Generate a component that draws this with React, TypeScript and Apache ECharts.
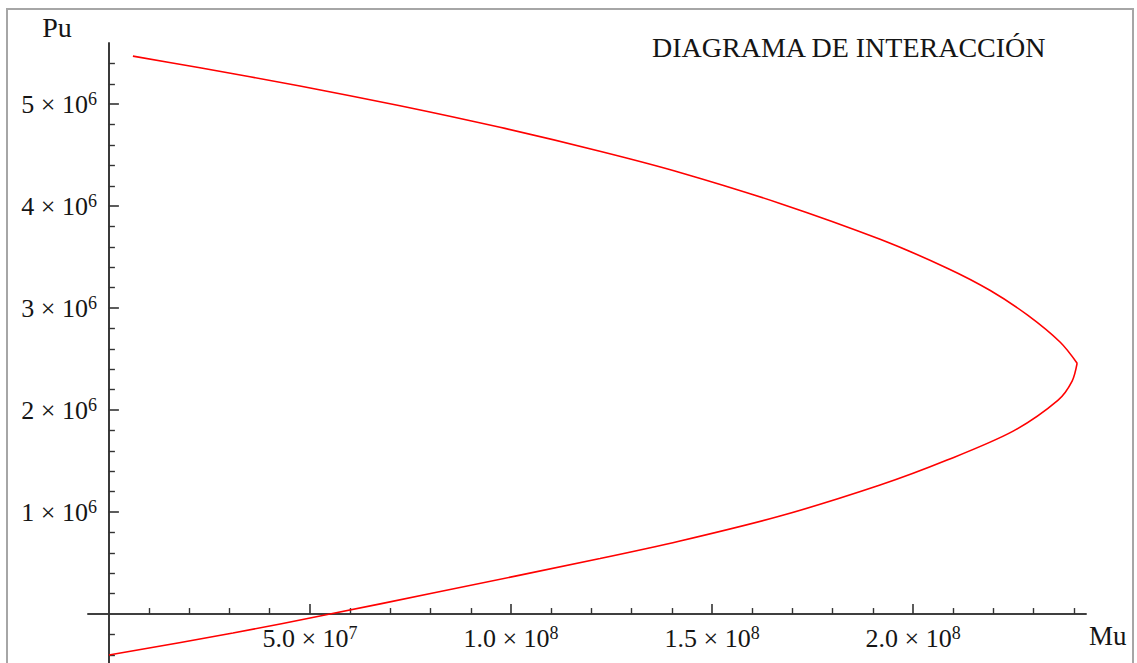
import { useEffect, useRef } from "react";
import * as echarts from "echarts";

// Upper branch (compression controlled), from the top end to the tip
const upperMu = [
  5.97e6, 2.264e7, 4.751e7, 7.239e7, 9.726e7, 1.221e8, 1.42e8, 1.669e8, 1.918e8, 2.085e8,
  2.192e8, 2.284e8, 2.366e8, 2.408e8,
];
const upperPu = [
  5.471e6, 5.357e6, 5.178e6, 4.985e6, 4.773e6, 4.539e6, 4.331e6, 4.027e6, 3.675e6, 3.392e6,
  3.173e6, 2.933e6, 2.665e6, 2.46e6,
];
// Lower branch (tension controlled), from the tip to the bottom end
const lowerMu = [
  2.408e8, 2.3955e8, 2.3607e8, 2.2488e8, 2.0846e8, 1.9179e8, 1.6692e8, 1.4204e8,
  1.2214e8, 8.06e7, 5.498e7, 3.085e7, 0,
];
const lowerPu = [
  2.46e6, 2.284e6, 2.098e6, 1.794e6, 1.51e6, 1.265e6, 0.961e6, 0.716e6,
  0.544e6, 0.206e6, 0, -0.186e6, -0.402e6,
];

const xMajorTicks = [5e7, 1e8, 1.5e8, 2e8];
const xTickMantissas = ["5.0", "1.0", "1.5", "2.0"];
const xTickExponents = ["7", "8", "8", "8"];
const xMinorTicks = [
  1e7, 2e7, 3e7, 4e7, 6e7, 7e7, 8e7, 9e7, 1.1e8, 1.2e8, 1.3e8, 1.4e8,
  1.6e8, 1.7e8, 1.8e8, 1.9e8, 2.1e8, 2.2e8, 2.3e8, 2.4e8,
];
const yMajorTicks = [1e6, 2e6, 3e6, 4e6, 5e6];
const yTickMantissas = ["1", "2", "3", "4", "5"];
const yTickExponent = "6";
const yMinorTicks = [
  -4e5, -2e5, 2e5, 4e5, 6e5, 8e5, 1.2e6, 1.4e6, 1.6e6, 1.8e6, 2.2e6, 2.4e6, 2.6e6, 2.8e6,
  3.2e6, 3.4e6, 3.6e6, 3.8e6, 4.2e6, 4.4e6, 4.6e6, 4.8e6, 5.2e6, 5.4e6,
];

const titleText = "DIAGRAMA DE INTERACCIÓN";
const xName = "Mu";
const yName = "Pu";

const X_MIN = -5.2e6;
const X_MAX = 2.43e8;
const Y_MIN = -0.48e6;
const Y_MAX = 5.6e6;

const SERIF = "'Liberation Serif', 'Times New Roman', serif";
const AXIS_COLOR = "#333333";
const TEXT_COLOR = "#151515";
const CURVE_COLOR = "#ff0000";

const rich = {
  b: { fontFamily: SERIF, fontSize: 26, lineHeight: 28, color: TEXT_COLOR },
  s: { fontFamily: SERIF, fontSize: 18, lineHeight: 11, verticalAlign: "top", color: TEXT_COLOR },
};

export default function App() {
  const ref = useRef<HTMLDivElement>(null);

  useEffect(() => {
    document.body.style.margin = "0";
    const chart = echarts.init(ref.current!, undefined, { renderer: "svg" });

    const upperData = upperMu.map((m, i) => [m, upperPu[i]]);
    const lowerData = lowerMu.map((m, i) => [m, lowerPu[i]]);

    const commonX = { type: "value", min: X_MIN, max: X_MAX, splitLine: { show: false } };
    const commonY = { type: "value", min: Y_MIN, max: Y_MAX, splitLine: { show: false } };

    const curve = {
      type: "line",
      xAxisIndex: 0,
      yAxisIndex: 0,
      showSymbol: false,
      symbol: "none",
      smooth: 0.3,
      lineStyle: { color: CURVE_COLOR, width: 1.6 },
    };

    chart.setOption({
      animation: false,
      backgroundColor: "#ffffff",
      grid: {
        left: 88,
        top: 43,
        width: 998,
        height: 620,
        containLabel: false,
        outerBoundsMode: "none",
      },
      xAxis: [
        {
          ...commonX,
          position: "bottom",
          axisLine: { show: true, onZero: true, onZeroAxisIndex: 0, lineStyle: { color: AXIS_COLOR, width: 1.6 } },
          axisTick: { show: true, inside: true, length: 10, customValues: xMajorTicks, lineStyle: { color: AXIS_COLOR, width: 1.6 } },
          axisLabel: {
            show: true,
            margin: -39,
            customValues: xMajorTicks,
            formatter: (v: number) => {
              const i = xMajorTicks.indexOf(v);
              if (i < 0) return "";
              return `{b|${xTickMantissas[i]} × 10}{s|${xTickExponents[i]}}`;
            },
            rich,
          },
        },
        {
          ...commonX,
          position: "top",
          axisLine: { show: true, onZero: true, onZeroAxisIndex: 1, lineStyle: { color: AXIS_COLOR, width: 1.6 } },
          axisTick: { show: true, inside: false, length: 6, customValues: xMinorTicks, lineStyle: { color: AXIS_COLOR, width: 1.4 } },
          axisLabel: { show: false },
        },
      ],
      yAxis: [
        {
          ...commonY,
          position: "left",
          axisLine: { show: true, onZero: true, onZeroAxisIndex: 0, lineStyle: { color: AXIS_COLOR, width: 1.6 } },
          axisTick: { show: true, inside: true, length: 10, customValues: yMajorTicks, lineStyle: { color: AXIS_COLOR, width: 1.6 } },
          axisLabel: {
            show: true,
            margin: -9,
            customValues: yMajorTicks,
            formatter: (v: number) => {
              const i = yMajorTicks.indexOf(v);
              if (i < 0) return "";
              return `{b|${yTickMantissas[i]} × 10}{s|${yTickExponent}}`;
            },
            rich,
          },
        },
        {
          ...commonY,
          position: "right",
          axisLine: { show: true, onZero: true, onZeroAxisIndex: 1, lineStyle: { color: AXIS_COLOR, width: 1.6 } },
          axisTick: { show: true, inside: false, length: 6, customValues: yMinorTicks, lineStyle: { color: AXIS_COLOR, width: 1.4 } },
          axisLabel: { show: false },
        },
      ],
      series: [
        { ...curve, name: "Rama superior", data: upperData },
        { ...curve, name: "Rama inferior", data: lowerData },
      ],
      graphic: [
        {
          type: "rect",
          shape: { x: 7, y: 9, width: 1126, height: 700 },
          style: { fill: "none", stroke: "#a6a6a6", lineWidth: 2 },
          silent: true,
          z: 0,
        },
        {
          type: "text",
          x: 652,
          y: 47.5,
          style: {
            text: titleText,
            fontFamily: SERIF,
            fontSize: 28,
            fill: TEXT_COLOR,
            align: "left",
            verticalAlign: "middle",
          },
        },
        {
          type: "text",
          x: 57,
          y: 27.5,
          style: {
            text: yName,
            fontFamily: SERIF,
            fontSize: 28,
            fill: TEXT_COLOR,
            align: "center",
            verticalAlign: "middle",
          },
        },
        {
          type: "text",
          x: 1089,
          y: 636,
          style: {
            text: xName,
            fontFamily: SERIF,
            fontSize: 27,
            fill: TEXT_COLOR,
            align: "left",
            verticalAlign: "middle",
          },
        },
      ],
    });

    return () => chart.dispose();
  }, []);

  return (
    <div
      ref={ref}
      style={{ position: "absolute", left: 0, top: 0, width: 1137, height: 663 }}
    />
  );
}
